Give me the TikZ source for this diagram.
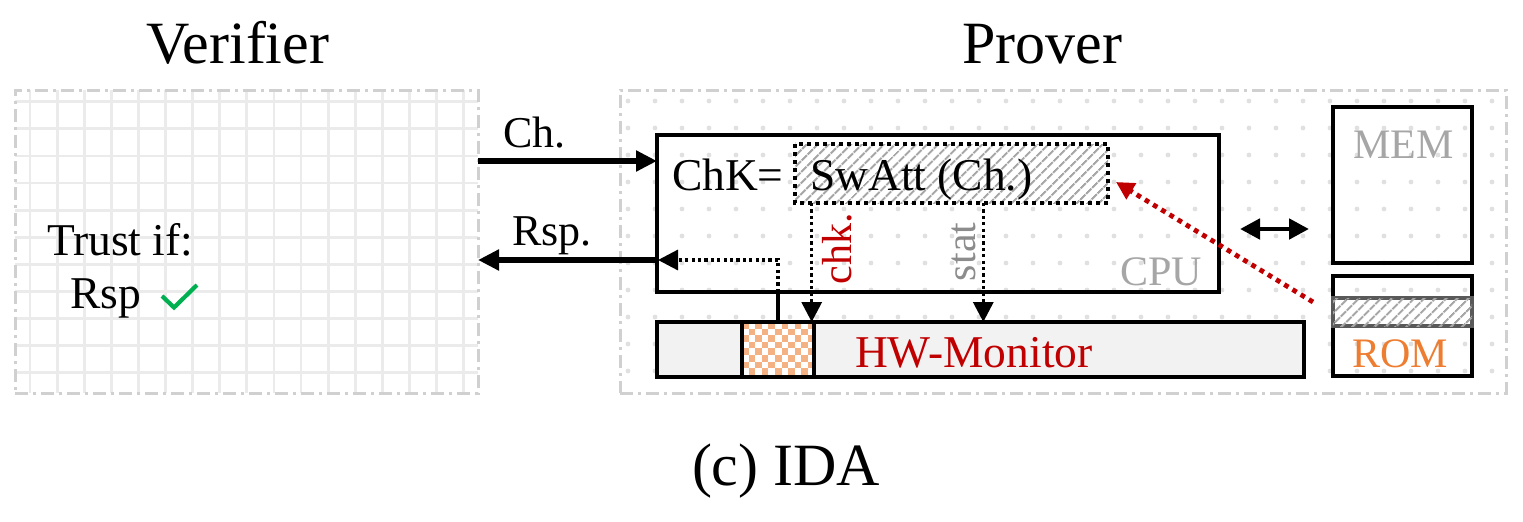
\documentclass[tikz,border=0pt]{standalone}
\usepackage{fontspec}
\setmainfont{Liberation Serif}
\usetikzlibrary{arrows.meta,patterns.meta,fit}
\definecolor{regiongray}{HTML}{D0D0D0}
\definecolor{gridgray}{HTML}{EBEBEB}
\definecolor{dotgray}{HTML}{E0E0E0}
\definecolor{hwgray}{HTML}{F2F2F2}
\definecolor{darkred}{HTML}{C00000}
\definecolor{lightgraytext}{HTML}{A6A6A6}
\definecolor{stattext}{HTML}{8C8C8C}
\definecolor{romorange}{HTML}{ED7D31}
\definecolor{checkorange}{HTML}{F4B183}
\definecolor{okgreen}{HTML}{00B050}
\definecolor{bandgray}{HTML}{595959}
\newcommand\sztitle{\fontsize{30}{36}\selectfont}
\newcommand\szmain{\fontsize{22.75}{27}\selectfont}
\newcommand\szlab{\fontsize{22}{26}\selectfont}
\newcommand\szsmall{\fontsize{21}{25}\selectfont}
\tikzset{
  region/.style={draw=regiongray, line width=1.5pt, dash pattern=on 6.5pt off 2.5pt on 1.5pt off 2.5pt},
  fitbox/.style={inner sep=0pt, outer sep=0pt},
  blk/.style={draw=black, line width=1.8pt},
  lbl/.style={inner sep=0pt, outer sep=0pt},
  hatch/.style={pattern={Lines[angle=45,distance=4pt,line width=1.1pt]}, pattern color=gray!70},
  thickarrow/.style={line width=2.6pt, -{Triangle[length=10.5pt,width=10pt]}},
  dotarrow/.style={line width=1.6pt, dash pattern=on 1.6pt off 1.6pt, -{Triangle[length=10pt,width=10pt]}},
  redarrow/.style={draw=darkred, line width=2.4pt, dash pattern=on 2.4pt off 2.4pt, -{Triangle[length=9pt,width=9pt,fill=darkred]}},
  dblarrow/.style={line width=2.4pt, {Triangle[length=10pt,width=10pt]}-{Triangle[length=10pt,width=10pt]}},
}
\begin{document}
\begin{tikzpicture}[x=0.5pt,y=-0.5pt]
\useasboundingbox (0,0) rectangle (1523,521);

% titles
\node[lbl, anchor=base west] (tverif) at (146,63) {\sztitle Verifier};
\node[lbl, anchor=base] (tprov) at (1042,63) {\sztitle Prover};
\node[lbl, anchor=base west] (caption) at (692,485) {\sztitle (c) IDA};

% verifier region with grid
\begin{scope}
  \clip (15,90) rectangle (478,393);
  \foreach \i in {0,...,16} \draw[gridgray, line width=1.4pt] ({30+27.1*\i},90) -- ({30+27.1*\i},393);
  \foreach \j in {0,...,10} \draw[gridgray, line width=1.4pt] (15,{101.7+27.1*\j}) -- (478,{101.7+27.1*\j});
\end{scope}
\node[fitbox, region, fit={(15,90) (478,393)}] (vbox) {};

% prover region with dots
\foreach \i in {0,...,32} \foreach \j in {0,...,10}
  \fill[dotgray] ({628+27*\i},{101+27*\j}) circle (1.2pt);
\node[fitbox, region, fit={(620,90) (1506,393)}] (pbox) {};

% verifier text
\node[lbl, anchor=base west] (trust) at (47,255) {\szmain Trust if:};
\node[lbl, anchor=base west] (rsp) at (70,308) {\szmain Rsp};
\draw[okgreen, line width=2.1pt] (162,296) -- (174,307.5) -- (197,285);

% CPU
\node[fitbox, blk, fit={(657,135) (1219,292)}] (cpu) {};
\node[lbl, anchor=base west, text=lightgraytext] (cpulbl) at (1120,285) {\szsmall CPU};
\node[lbl, anchor=base west] (chk) at (672,190) {\szmain ChK=};
\node[fitbox, fit={(795,144) (1108,203)}, fill=white, postaction={hatch}] (swatt) {};
\draw[line width=2pt, dash pattern=on 2pt off 2pt] (swatt.north west) rectangle (swatt.south east);
\node[lbl, anchor=base west] (swattlbl) at (810,190) {\szmain SwAtt (Ch.)};

% HW monitor
\node[fitbox, blk, fill=hwgray, fit={(657,322) (1304,377)}] (hwm) {};
\node[lbl, anchor=base west, text=darkred] (hwmlbl) at (855,367) {\szmain HW-Monitor};
\begin{scope}
  \clip (742,322) rectangle (814,377);
  \fill[white] (742,322) rectangle (814,377);
  \foreach \i in {0,...,10} \foreach \j in {0,...,8} {
    \pgfmathtruncatemacro\cpar{mod(\i+\j,2)}
    \ifnum\cpar=0
      \fill[checkorange] ({742+6.6*\i},{322+6.6*\j}) rectangle ++(6.6,6.6);
    \fi
  }
\end{scope}
\node[fitbox, draw=black, line width=2.3pt, fit={(742,322) (814,377)}] (chkbox) {};

% MEM and ROM
\node[fitbox, blk, fit={(1333,107) (1472,263)}] (mem) {};
\node[lbl, anchor=base west, text=lightgraytext] (memlbl) at (1353,158) {\szsmall MEM};
\node[fitbox, blk, fit={(1333,276) (1472,376)}] (rom) {};
\node[fitbox, draw=bandgray, line width=2pt, fill=white, postaction={hatch}, fit={(1333,298) (1472,326)}] (romband) {};
\node[lbl, anchor=base west, text=romorange] (romlbl) at (1352,367) {\szsmall ROM};

% helper coordinates
\coordinate (chy) at (0,161);
\coordinate (rspy) at (0,260);
\coordinate (rspx) at (778,0);
\coordinate (chkx) at (811.7,0);
\coordinate (statx) at (983.3,0);
\coordinate (dy) at (0,229);
\coordinate (redS) at (1313,302);
\coordinate (redE) at (1116,182);

% Ch. and Rsp. arrows
\draw[thickarrow] (vbox.east |- chy) -- (cpu.west |- chy);
\node[lbl, anchor=base west] (chlbl) at (503,147) {\szlab Ch.};
\draw[thickarrow] (cpu.west |- rspy) -- (vbox.east |- rspy);
\node[lbl, anchor=base west] (rsplbl) at (512,245) {\szlab Rsp.};

% inner response path
\draw[line width=1.6pt] (chkbox.north -| rspx) -- (cpu.south -| rspx);
\draw[dotarrow] (cpu.south -| rspx) |- ([xshift=0.5pt]cpu.west |- rspy);

% chk. and stat arrows
\draw[dotarrow] (swatt.south -| chkx) -- (hwm.north -| chkx);
\draw[dotarrow] (swatt.south -| statx) -- (hwm.north -| statx);
\node[lbl, anchor=base west, rotate=90, text=darkred] (chklbl) at (851.7,284) {\szsmall chk.};
\node[lbl, anchor=base west, rotate=90, text=stattext] (statlbl) at (975,281) {\szsmall stat};

% CPU <-> MEM
\draw[dblarrow, shorten <=10.5pt, shorten >=12pt] (cpu.east |- dy) -- (mem.west |- dy);

% ROM -> SwAtt
\draw[redarrow] (redS) -- (redE);
\end{tikzpicture}
\end{document}
